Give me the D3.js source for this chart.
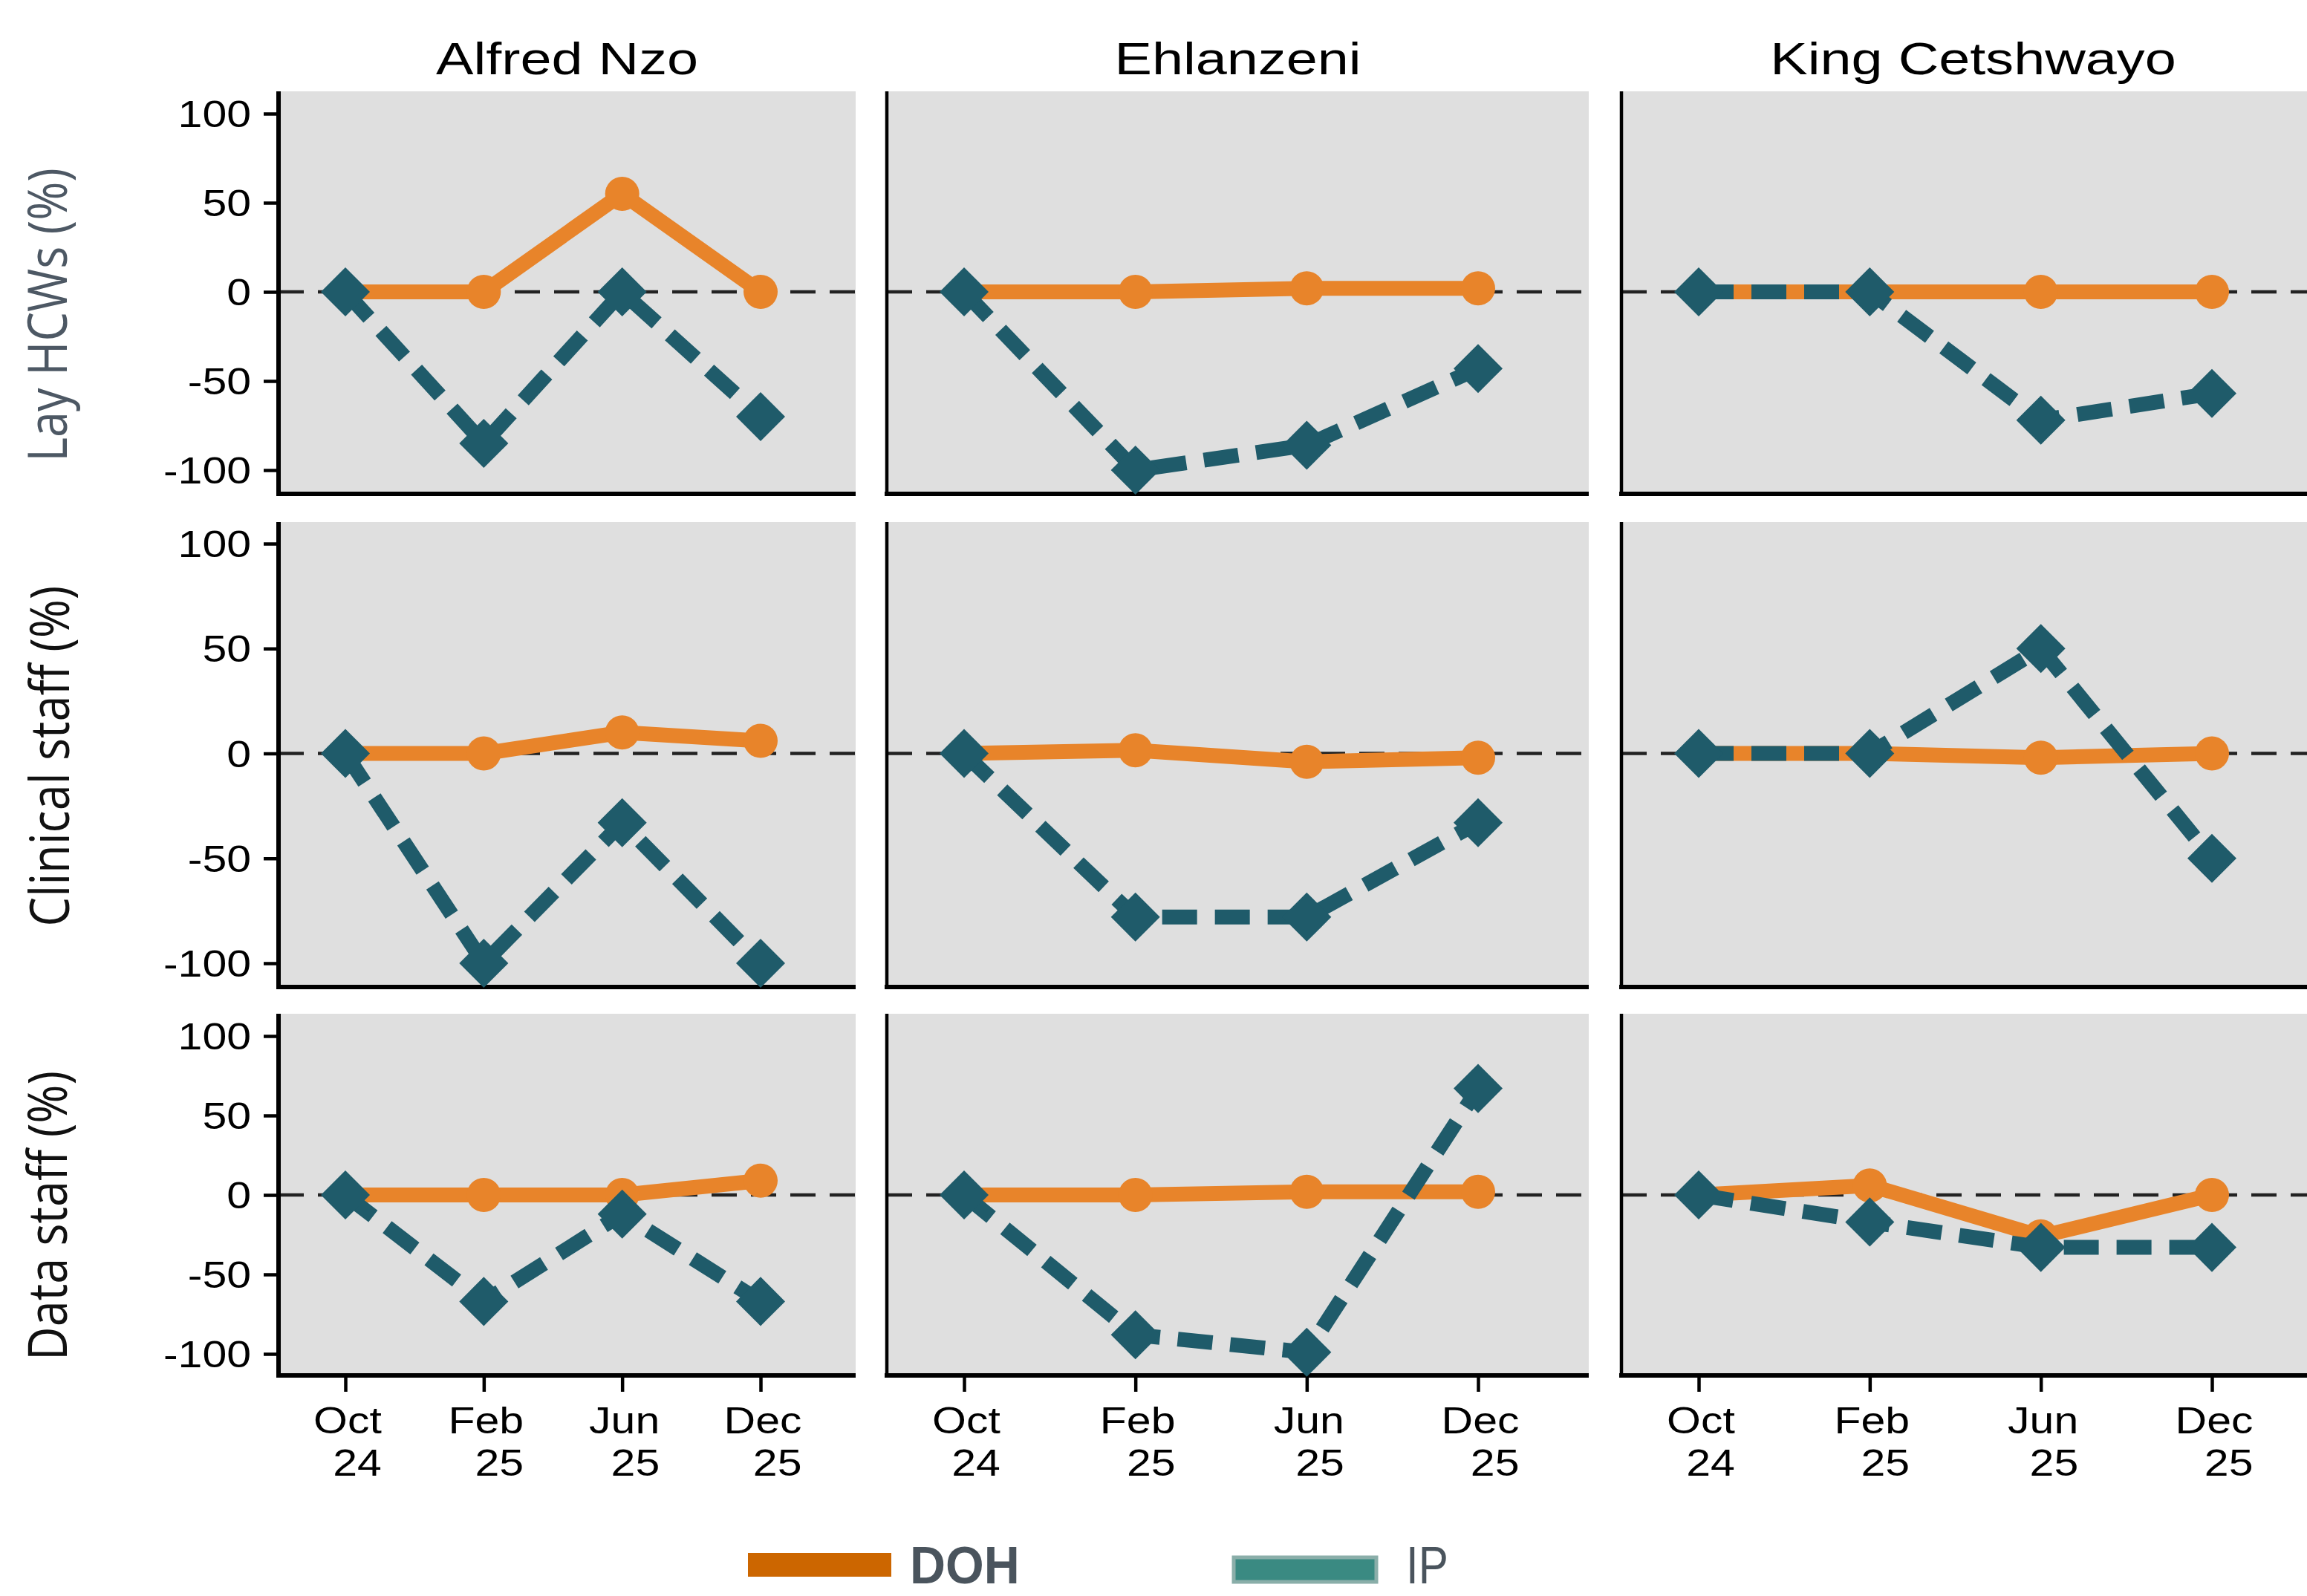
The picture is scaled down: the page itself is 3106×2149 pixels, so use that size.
<!DOCTYPE html>
<html>
<head>
<meta charset="utf-8">
<script src="https://cdn.jsdelivr.net/npm/d3@7"></script>
<style>
  body { margin: 0; background: #fff; overflow: hidden; }
  svg { display: block; }
</style>
</head>
<body>
<div id="chart"></div>
<script>
// periods on the x axis (two-line tick labels)
var periods = [["Oct", "24"], ["Feb", "25"], ["Jun", "25"], ["Dec", "25"]];
var districts = ["Alfred Nzo", "Ehlanzeni", "King Cetshwayo"];
var staffGroups = ["Lay HCWs (%)", "Clinical staff (%)", "Data staff (%)"];
var yTicks = [100, 50, 0, -50, -100];
var seriesNames = ["DOH", "IP"];

// % change, one array per district (Alfred Nzo, Ehlanzeni, King Cetshwayo)
var dohLay      = [[0, 0, 55, 0], [0, 0, 2, 2], [0, 0, 0, 0]];
var ipLay       = [[0, -85, 0, -70], [0, -100, -86, -43], [0, 0, -72, -57]];
var dohClinical = [[0, 0, 10, 6], [0, 1.5, -4, -2], [0, 0, -2, 0]];
var ipClinical  = [[0, -100, -33, -100], [0, -78, -78, -33], [0, 0, 50, -50]];
var dohData     = [[0, 0, 0, 9], [0, 0, 2, 2], [0, 6, -26, 0]];
var ipData      = [[0, -67, -12, -67], [0, -88, -99, 67], [0, -17, -33, -33]];

var dohRows = [dohLay, dohClinical, dohData];
var ipRows = [ipLay, ipClinical, ipData];

// layout (pixels)
var width = 3106, height = 2149;
var colLeft = [375, 1194, 2183], colRight = [1152, 2139, 3130];
var colTicks = [[465, 1024], [1298, 1990], [2287, 2978]];
var rowTop = [123, 703, 1365], rowBottom = [665, 1329, 1852];
var rowTicks = [[633, 153], [1297, 732], [1823, 1395]];

var orange = "#e8842a", teal = "#1f5b6a";
var arial = "'Liberation Sans', Arial, sans-serif";
var sans = "'Open Sans', 'Noto Sans', sans-serif";
var stretch = 1.18;

var svg = d3.select("#chart").append("svg")
  .attr("width", width)
  .attr("height", height);

var line = function(x, y) {
  return d3.line().x(function(d, i) { return x(i); }).y(function(d) { return y(d); });
};

districts.forEach(function(dist, c) {
  // column title
  svg.append("text")
    .attr("transform", "translate(" + (colLeft[c] + colRight[c]) / 2 + ",100) scale(1.22,1)")
    .attr("text-anchor", "middle")
    .style("font-family", arial)
    .style("font-size", "62px")
    .text(dist);

  staffGroups.forEach(function(grp, r) {
    var x = d3.scaleLinear().domain([0, 3]).range(colTicks[c]);
    var y = d3.scaleLinear().domain([-100, 100]).range(rowTicks[r]);
    var g = svg.append("g");

    g.append("rect")
      .attr("x", colLeft[c]).attr("y", rowTop[r])
      .attr("width", colRight[c] - colLeft[c])
      .attr("height", rowBottom[r] - rowTop[r])
      .attr("fill", "#dfdfdf");

    g.append("line")
      .attr("x1", colLeft[c]).attr("x2", colRight[c])
      .attr("y1", y(0)).attr("y2", y(0))
      .attr("stroke", "#222").attr("stroke-width", 4.5)
      .attr("stroke-dasharray", "34,19");

    // y axis
    if (c == 0) {
      var ya = g.append("g")
        .attr("transform", "translate(" + colLeft[c] + ",0)")
        .call(d3.axisLeft(y).tickValues(yTicks).tickSize(20).tickFormat(function(d) { return String(d); }));
      ya.select(".domain").remove();
      ya.selectAll("line").attr("stroke", "#000").attr("stroke-width", 4.5);
      ya.selectAll("text")
        .attr("x", null).attr("dy", "0.35em")
        .attr("transform", "translate(-37,0) scale(" + stretch + ",1)")
        .attr("fill", "#000")
        .style("font-family", arial).style("font-size", "50px");
    }

    // x axis ticks on the bottom row
    if (r == 2) {
      var xa = g.append("g")
        .attr("transform", "translate(0," + rowBottom[r] + ")")
        .call(d3.axisBottom(x).tickValues([0, 1, 2, 3]).tickSize(22).tickFormat(""));
      xa.select(".domain").remove();
      xa.selectAll("line").attr("stroke", "#000").attr("stroke-width", 4.5);

      periods.forEach(function(p, i) {
        var tx = x(i) + 3;
        var t1 = g.append("text")
          .attr("transform", "translate(" + tx + ",1930) scale(" + stretch + ",1)")
          .attr("text-anchor", "middle")
          .style("font-family", arial).style("font-size", "50px")
          .text(p[0]);
        var w = t1.node().getComputedTextLength() * stretch;
        g.append("text")
          .attr("transform", "translate(" + (tx + w / 2) + ",1987) scale(" + stretch + ",1)")
          .attr("text-anchor", "end")
          .style("font-family", arial).style("font-size", "50px")
          .text(p[1]);
      });
    }

    // axis lines
    g.append("line")
      .attr("x1", colLeft[c]).attr("x2", colLeft[c])
      .attr("y1", rowTop[r]).attr("y2", rowBottom[r] + 3)
      .attr("stroke", "#000").attr("stroke-width", c == 0 ? 6 : 4.5);
    g.append("line")
      .attr("x1", colLeft[c] - 3).attr("x2", colRight[c])
      .attr("y1", rowBottom[r]).attr("y2", rowBottom[r])
      .attr("stroke", "#000").attr("stroke-width", 6);

    // DOH
    var doh = dohRows[r][c];
    g.append("path")
      .attr("d", line(x, y)(doh))
      .attr("fill", "none").attr("stroke", orange)
      .attr("stroke-width", 20).attr("stroke-linejoin", "round");
    g.selectAll(".doh").data(doh).enter().append("circle")
      .attr("class", "doh")
      .attr("cx", function(d, i) { return x(i); })
      .attr("cy", function(d) { return y(d); })
      .attr("r", 23)
      .attr("fill", orange);

    // IP
    var ip = ipRows[r][c];
    g.append("path")
      .attr("d", line(x, y)(ip))
      .attr("fill", "none").attr("stroke", teal)
      .attr("stroke-width", 20).attr("stroke-dasharray", "47,24");
    g.selectAll(".ip").data(ip).enter().append("path")
      .attr("class", "ip")
      .attr("d", d3.symbol().type(d3.symbolSquare).size(2180))
      .attr("transform", function(d, i) { return "translate(" + x(i) + "," + y(d) + ") rotate(45)"; })
      .attr("fill", teal);
  });
});

// row labels
var labelX = [90, 93, 90], labelY = [424, 1018, 1637];
var labelColor = ["#4d5864", "#111", "#111"];
staffGroups.forEach(function(grp, r) {
  svg.append("text")
    .attr("transform", "translate(" + labelX[r] + "," + labelY[r] + ") rotate(-90) scale(1,1.15)")
    .attr("text-anchor", "middle")
    .attr("fill", labelColor[r])
    .style("font-family", sans).style("font-size", "63px")
    .text(grp);
});

// legend
var legend = svg.append("g");
legend.append("rect")
  .attr("x", 1007).attr("y", 2091).attr("width", 193).attr("height", 32)
  .attr("fill", "#cc6600");
legend.append("text")
  .attr("transform", "translate(1225,2132) scale(0.95,1)")
  .attr("fill", "#4a545d")
  .style("font-family", arial).style("font-size", "70px").style("font-weight", "bold")
  .text(seriesNames[0]);
legend.append("rect")
  .attr("x", 1661).attr("y", 2097).attr("width", 192).attr("height", 33)
  .attr("fill", "#3a8a82").attr("stroke", "#8aaea9").attr("stroke-width", 5);
legend.append("text")
  .attr("transform", "translate(1893,2132) scale(0.86,1)")
  .attr("fill", "#4a545d")
  .style("font-family", arial).style("font-size", "70px")
  .text(seriesNames[1]);
</script>
</body>
</html>
